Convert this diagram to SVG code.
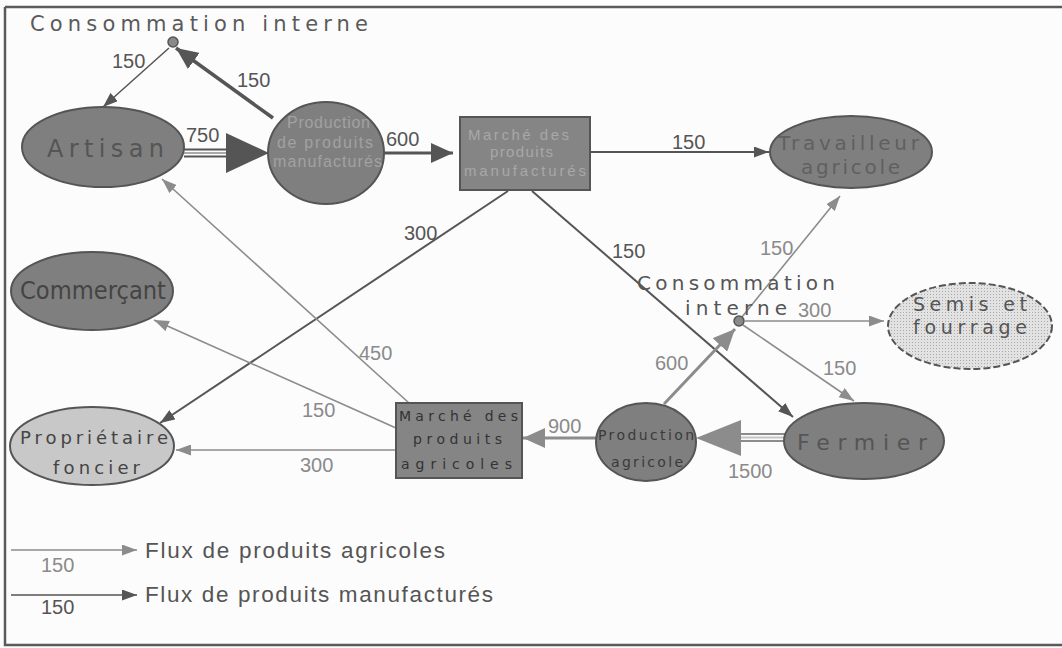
<svg xmlns="http://www.w3.org/2000/svg" width="1062" height="648" viewBox="0 0 1062 648">
<style>
.num{font-family:"Liberation Sans",Arial,sans-serif;font-size:20px}
.nd{fill:#555}
.nl{fill:#8a8a8a}
.sp{font-family:"DejaVu Sans","Liberation Sans",sans-serif}
.dk{fill:#7f7f7f;stroke:#555;stroke-width:2}
.lt{fill:#c8c8c8;stroke:#555;stroke-width:2}
.md{stroke:#555;fill:none}
.ml{stroke:#8c8c8c;fill:none}
.leg{font-family:"Liberation Sans",Arial,sans-serif;font-size:22.5px;fill:#555}
</style>
<defs>
<marker id="sD" viewBox="0 0 15 11" refX="15" refY="5.5" markerWidth="15" markerHeight="11" markerUnits="userSpaceOnUse" orient="auto"><path d="M0,0 L15,5.5 L0,11 z" fill="#555"/></marker>
<marker id="sL" viewBox="0 0 15 11" refX="15" refY="5.5" markerWidth="15" markerHeight="11" markerUnits="userSpaceOnUse" orient="auto"><path d="M0,0 L15,5.5 L0,11 z" fill="#8c8c8c"/></marker>
<marker id="mD" viewBox="0 0 22 20" refX="22" refY="10" markerWidth="22" markerHeight="20" markerUnits="userSpaceOnUse" orient="auto"><path d="M0,0 L22,10 L0,20 z" fill="#555"/></marker>
<marker id="mL" viewBox="0 0 22 20" refX="22" refY="10" markerWidth="22" markerHeight="20" markerUnits="userSpaceOnUse" orient="auto"><path d="M0,0 L22,10 L0,20 z" fill="#8c8c8c"/></marker>
<pattern id="dots" width="3" height="3" patternUnits="userSpaceOnUse"><rect width="3" height="3" fill="#e2e2e2"/><rect width="1" height="1" fill="#a8a8a8"/></pattern>
</defs>
<rect width="1062" height="648" fill="#fcfcfc"/>
<g id="frame" stroke="#5a5a5a" stroke-width="2.5" fill="none">
<path d="M5,7 H1062 M5,7 V645 H1062"/>
</g>

<g id="connectors">
<line class="md" x1="169" y1="48" x2="103" y2="107" stroke-width="1.5" marker-end="url(#sD)"/>
<line class="md" x1="273" y1="118" x2="176" y2="48" stroke-width="3.5" marker-end="url(#mD)"/>
<line x1="184" y1="149.5" x2="230" y2="149.5" stroke="#555" stroke-width="2.2"/>
<line x1="184" y1="153" x2="230" y2="153" stroke="#aaa" stroke-width="2"/>
<line x1="184" y1="156.5" x2="230" y2="156.5" stroke="#555" stroke-width="2.2"/>
<polygon points="226,133 269,153 226,173" fill="#555"/>
<line class="md" x1="384" y1="153" x2="453" y2="153" stroke-width="3" marker-end="url(#mD)"/>
<line class="md" x1="590" y1="152" x2="769" y2="152" stroke-width="2" marker-end="url(#sD)"/>
<line class="md" x1="532" y1="191" x2="793" y2="417" stroke-width="2" marker-end="url(#sD)"/>
<line class="md" x1="508" y1="191" x2="160" y2="423" stroke-width="2" marker-end="url(#sD)"/>
<line class="ml" x1="409" y1="403" x2="162" y2="179" stroke-width="1.6" marker-end="url(#sL)"/>
<line class="ml" x1="396" y1="428" x2="154" y2="320" stroke-width="1.6" marker-end="url(#sL)"/>
<line class="ml" x1="396" y1="450" x2="176" y2="450" stroke-width="1.6" marker-end="url(#sL)"/>
<line class="ml" x1="664" y1="404" x2="735" y2="329" stroke-width="3" marker-end="url(#mL)"/>
<line class="ml" x1="742" y1="317" x2="840" y2="196" stroke-width="1.6" marker-end="url(#sL)"/>
<line class="ml" x1="745" y1="321" x2="884" y2="321" stroke-width="1.6" marker-end="url(#sL)"/>
<line class="ml" x1="743" y1="325" x2="854" y2="401" stroke-width="1.6" marker-end="url(#sL)"/>
<line x1="785" y1="434" x2="738" y2="434" stroke="#8c8c8c" stroke-width="2.2"/>
<line x1="785" y1="437.5" x2="738" y2="437.5" stroke="#c4c4c4" stroke-width="2"/>
<line x1="785" y1="441" x2="738" y2="441" stroke="#8c8c8c" stroke-width="2.2"/>
<polygon points="741,420 696,438 741,456" fill="#8c8c8c"/>
<line class="ml" x1="596" y1="438" x2="523" y2="438" stroke-width="3" marker-end="url(#mL)"/>
<text class="num nd" x="112" y="68">150</text>
<text class="num nd" x="237" y="87">150</text>
<text class="num nd" x="186" y="142">750</text>
<text class="num nd" x="386" y="146">600</text>
<text class="num nd" x="672" y="149">150</text>
<text class="num nd" x="612" y="258">150</text>
<text class="num nd" x="404" y="240">300</text>
<text class="num nl" x="359" y="360">450</text>
<text class="num nl" x="302" y="417">150</text>
<text class="num nl" x="300" y="472">300</text>
<text class="num nl" x="760" y="255">150</text>
<text class="num nl" x="798" y="317">300</text>
<text class="num nl" x="823" y="375">150</text>
<text class="num nl" x="655" y="370">600</text>
<text class="num nl" x="548" y="433">900</text>
<text class="num nl" x="728" y="478">1500</text>
</g>

<g id="n-conso-haut">
<text class="sp" x="30" y="31" font-size="21" fill="#5a5a5a" textLength="338" lengthAdjust="spacing">Consommation interne</text>
<circle cx="173" cy="42" r="5" fill="#8a8a8a" stroke="#555" stroke-width="1.5"/>
</g>

<g id="n-artisan">
<ellipse class="dk" cx="103" cy="147" rx="81" ry="40"/>
<text class="sp" x="47" y="157" font-size="24" fill="#555" textLength="117" lengthAdjust="spacing">Artisan</text>
</g>

<g id="n-prod-manuf">
<ellipse class="dk" cx="326" cy="153" rx="58" ry="51"/>
<g font-family="Liberation Sans,Arial,sans-serif" font-size="16" fill="#a2a2a2">
<text x="287" y="128" textLength="83" lengthAdjust="spacing">Production</text>
<text x="277" y="148" textLength="96" lengthAdjust="spacing">de produits</text>
<text x="273" y="167" textLength="109" lengthAdjust="spacing">manufacturés</text>
</g>
</g>

<g id="n-marche-manuf">
<rect x="460" y="117" width="130" height="73" fill="#858585" stroke="#555" stroke-width="2"/>
<g font-family="Liberation Sans,Arial,sans-serif" font-size="15" fill="#a8a8a8">
<text x="468" y="140" textLength="101" lengthAdjust="spacing">Marché des</text>
<text x="490" y="157" textLength="63" lengthAdjust="spacing">produits</text>
<text x="464" y="176" textLength="122" lengthAdjust="spacing">manufacturés</text>
</g>
</g>

<g id="n-travailleur">
<ellipse class="dk" cx="851" cy="152" rx="81" ry="36"/>
<text class="sp" x="778" y="150" font-size="20" fill="#606060" textLength="141" lengthAdjust="spacing">Travailleur</text>
<text class="sp" x="801" y="174" font-size="20" fill="#606060" textLength="99" lengthAdjust="spacing">agricole</text>
</g>

<g id="n-commercant">
<ellipse class="dk" cx="92" cy="291" rx="81" ry="39"/>
<text class="sp" x="20" y="299" font-size="25" fill="#444" textLength="146" lengthAdjust="spacingAndGlyphs">Commerçant</text>
</g>

<g id="n-proprietaire">
<ellipse class="lt" cx="92" cy="446" rx="82" ry="39"/>
<text class="sp" x="20" y="444" font-size="18" fill="#444" textLength="148" lengthAdjust="spacing">Propriétaire</text>
<text class="sp" x="53" y="474" font-size="18" fill="#444" textLength="87" lengthAdjust="spacing">foncier</text>
</g>

<g id="n-conso-milieu">
<text class="sp" x="637" y="290" font-size="20" fill="#555" textLength="198" lengthAdjust="spacing">Consommation</text>
<text class="sp" x="685" y="315" font-size="20" fill="#555" textLength="102" lengthAdjust="spacing">interne</text>
<circle cx="739" cy="321" r="5" fill="#8a8a8a" stroke="#555" stroke-width="1.5"/>
</g>

<g id="n-semis">
<ellipse cx="970" cy="326" rx="82" ry="43" fill="url(#dots)" stroke="#555" stroke-width="2" stroke-dasharray="7,3"/>
<text class="sp" x="913" y="311" font-size="19" fill="#555" textLength="114" lengthAdjust="spacing">Semis et</text>
<text class="sp" x="913" y="334" font-size="19" fill="#555" textLength="114" lengthAdjust="spacing">fourrage</text>
</g>

<g id="n-fermier">
<ellipse class="dk" cx="864" cy="441" rx="80" ry="38"/>
<text class="sp" x="797" y="450" font-size="22" fill="#555" textLength="130" lengthAdjust="spacing">Fermier</text>
</g>

<g id="n-prod-agri">
<ellipse class="dk" cx="646" cy="442" rx="50" ry="39"/>
<text class="sp" x="598" y="440" font-size="14" fill="#3a3a3a" textLength="96" lengthAdjust="spacing">Production</text>
<text class="sp" x="611" y="467" font-size="14" fill="#3a3a3a" textLength="72" lengthAdjust="spacing">agricole</text>
</g>

<g id="n-marche-agri">
<rect x="396" y="403" width="126" height="75" fill="#858585" stroke="#555" stroke-width="2"/>
<g font-family="DejaVu Sans,Liberation Sans,sans-serif" font-size="14" fill="#333">
<text x="399" y="421" textLength="119" lengthAdjust="spacing">Marché des</text>
<text x="413" y="444" textLength="89" lengthAdjust="spacing">produits</text>
<text x="401" y="469" textLength="111" lengthAdjust="spacing">agricoles</text>
</g>
</g>

<g id="legend">
<line class="ml" x1="11" y1="550" x2="137" y2="550" stroke-width="1.6" marker-end="url(#sL)"/>
<text class="leg" x="145" y="558" textLength="300" lengthAdjust="spacing">Flux de produits agricoles</text>
<text class="num nl" x="41" y="572">150</text>
<line class="md" x1="11" y1="595" x2="137" y2="595" stroke-width="1.6" marker-end="url(#sD)"/>
<text class="leg" x="145" y="602" textLength="348" lengthAdjust="spacing">Flux de produits manufacturés</text>
<text class="num nd" x="41" y="614">150</text>
</g>
</svg>
